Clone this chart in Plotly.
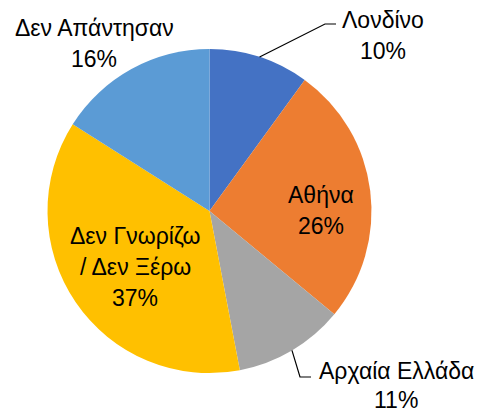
import math
import plotly.graph_objects as go

# Survey answers and their shares (%)
categories = ["Λονδίνο", "Αθήνα", "Αρχαία Ελλάδα", "Δεν Γνωρίζω / Δεν Ξέρω", "Δεν Απάντησαν"]
values = [10, 26, 11, 37, 16]
colors = ["#4472C4", "#ED7D31", "#A5A5A5", "#FFC000", "#5B9BD5"]

# Label text lines per slice (the percentage line is added from the values)
label_lines = [["Λονδίνο"], ["Αθήνα"], ["Αρχαία Ελλάδα"], ["Δεν Γνωρίζω", "/ Δεν Ξέρω"], ["Δεν Απάντησαν"]]

W, H = 480, 414
CX, CY, R = 209.5, 211.0, 162.0  # pie centre and radius in pixels
FONT = "Liberation Sans"
FSIZE = 23

# label anchor (centre of first line) in pixels, line gap, and optional leader elbow / end
label_pos = [(383, 20), (321, 195), (396, 371), (135, 236), (94, 28)]
line_gap = [31, 31, 29, 31, 31]
leaders = {0: [(325, 24), (336, 24)], 2: [(300, 377), (311, 377)]}


def px(x):
    return x / W


def py(y):
    return 1 - y / H


fig = go.Figure(
    go.Pie(
        labels=categories,
        values=values,
        marker=dict(colors=colors, line=dict(width=0)),
        sort=False,
        direction="clockwise",
        rotation=0,
        textinfo="none",
        hoverinfo="label+percent",
        domain=dict(x=[px(CX - R), px(CX + R)], y=[py(CY + R), py(CY - R)]),
        showlegend=False,
    )
)

annotations = []
shapes = []
total = sum(values)
cum = 0
for i, v in enumerate(values):
    mid = (cum + v / 2) / total * 2 * math.pi
    cum += v
    lines = label_lines[i] + [f"{round(v / total * 100)}%"]
    lx, ly = label_pos[i]
    for k, t in enumerate(lines):
        annotations.append(
            dict(
                x=px(lx), y=py(ly + k * line_gap[i]), xref="paper", yref="paper",
                text=t, showarrow=False, xanchor="center", yanchor="middle",
                borderpad=0,
                font=dict(family=FONT, size=FSIZE, color="#000000"),
            )
        )
    if i in leaders:
        ex, ey = CX + R * math.sin(mid), CY - R * math.cos(mid)
        pts = [(ex, ey)] + leaders[i]
        path = "M " + " L ".join(f"{px(a)},{py(b)}" for a, b in pts)
        shapes.append(
            dict(type="path", path=path, xref="paper", yref="paper",
                 line=dict(color="#000000", width=1.2))
        )

fig.update_layout(
    width=W,
    height=H,
    margin=dict(l=0, r=0, t=0, b=0),
    paper_bgcolor="white",
    plot_bgcolor="white",
    annotations=annotations,
    shapes=shapes,
)

fig.write_html("out.html")
